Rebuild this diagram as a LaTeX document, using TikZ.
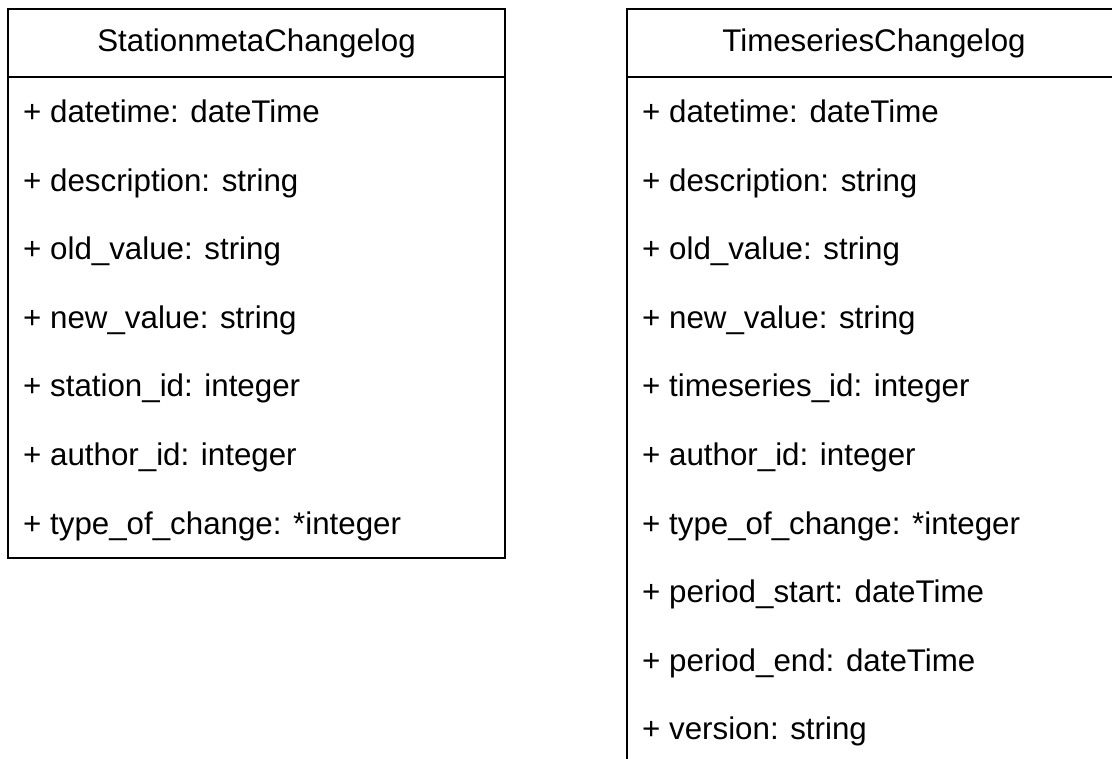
\documentclass[tikz,border=0pt]{standalone}
\usepackage{fontspec}
\setmainfont{Liberation Sans}
\begin{document}
\begin{tikzpicture}[x=1pt,y=-1pt,
  boxline/.style={draw=black,line width=2.2pt},
  attr/.style={anchor=base west,inner sep=0pt,font=\fontsize{31.3}{37}\selectfont},
  title/.style={anchor=base,inner sep=0pt,font=\fontsize{31.3}{37}\selectfont}]
\useasboundingbox (0,0) rectangle (1112,759);
\clip (0,0) rectangle (1112,759);
% left class
\draw[boxline] (8,9) rectangle (505,558);
\draw[boxline] (8,77) -- (505,77);
\node[title] (ltitle) at (256.5,52) {StationmetaChangelog};
\foreach \t [count=\i from 0] in {{+ datetime: dateTime},{+ description: string},{+ old\_value: string},{+ new\_value: string},{+ station\_id: integer},{+ author\_id: integer},{+ type\_of\_change: *integer}}{
  \node[attr] (l\i) at (23,123+68.5*\i) {\t};
}
% right class (extends beyond the picture)
\draw[boxline] (627,790) -- (627,9) -- (1121,9) -- (1121,790);
\draw[boxline] (627,77) -- (1121,77);
\node[title] (rtitle) at (874,52) {TimeseriesChangelog};
\foreach \t [count=\i from 0] in {{+ datetime: dateTime},{+ description: string},{+ old\_value: string},{+ new\_value: string},{+ timeseries\_id: integer},{+ author\_id: integer},{+ type\_of\_change: *integer},{+ period\_start: dateTime},{+ period\_end: dateTime},{+ version: string}}{
  \node[attr] (r\i) at (642,123+68.5*\i) {\t};
}
\end{tikzpicture}
\end{document}
